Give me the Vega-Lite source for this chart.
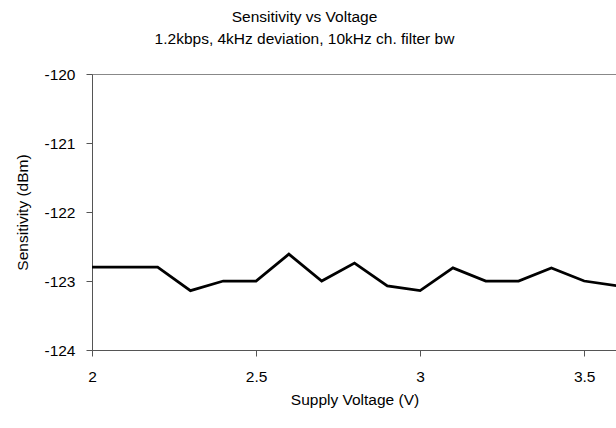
{
  "$schema": "https://vega.github.io/schema/vega-lite/v6.json",
  "autosize": "none",
  "width": 525,
  "height": 276,
  "padding": {"left": 92, "top": 74, "right": 0, "bottom": 78},
  "background": "white",
  "title": {
    "text": ["Sensitivity vs Voltage", "1.2kbps, 4kHz deviation, 10kHz ch. filter bw"],
    "font": "Liberation Sans",
    "fontSize": 15.5,
    "fontWeight": "normal",
    "lineHeight": 22,
    "color": "#000000",
    "anchor": "middle",
    "frame": "group",
    "dx": -50,
    "offset": 20
  },
  "config": {
    "view": {"stroke": "#888888", "strokeWidth": 1},
    "axis": {
      "labelFont": "Liberation Sans",
      "titleFont": "Liberation Sans",
      "labelFontSize": 15.5,
      "titleFontSize": 15.5,
      "titleFontWeight": "normal",
      "labelColor": "#000000",
      "titleColor": "#000000",
      "domainColor": "#555555",
      "tickColor": "#555555",
      "tickSize": 6,
      "grid": false
    }
  },
  "data": {
    "values": [
      {"voltage": 2.0, "sensitivity": -122.8},
      {"voltage": 2.1, "sensitivity": -122.8},
      {"voltage": 2.2, "sensitivity": -122.8},
      {"voltage": 2.3, "sensitivity": -123.14},
      {"voltage": 2.4, "sensitivity": -123.0},
      {"voltage": 2.5, "sensitivity": -123.0},
      {"voltage": 2.6, "sensitivity": -122.61},
      {"voltage": 2.7, "sensitivity": -123.0},
      {"voltage": 2.8, "sensitivity": -122.74},
      {"voltage": 2.9, "sensitivity": -123.07},
      {"voltage": 3.0, "sensitivity": -123.14},
      {"voltage": 3.1, "sensitivity": -122.81},
      {"voltage": 3.2, "sensitivity": -123.0},
      {"voltage": 3.3, "sensitivity": -123.0},
      {"voltage": 3.4, "sensitivity": -122.81},
      {"voltage": 3.5, "sensitivity": -123.0},
      {"voltage": 3.6, "sensitivity": -123.07}
    ]
  },
  "mark": {"type": "line", "color": "#000000", "strokeWidth": 2.75},
  "encoding": {
    "x": {
      "field": "voltage",
      "type": "quantitative",
      "scale": {"domain": [2, 3.6], "nice": false, "zero": false},
      "axis": {"values": [2, 2.5, 3, 3.5], "labelExpr": "'' + datum.value", "title": "Supply Voltage (V)", "labelPadding": 13, "titlePadding": 8, "labelFlush": false}
    },
    "y": {
      "field": "sensitivity",
      "type": "quantitative",
      "scale": {"domain": [-124, -120], "nice": false, "zero": false},
      "axis": {"values": [-124, -123, -122, -121, -120], "labelExpr": "'' + datum.value", "title": "Sensitivity (dBm)", "labelPadding": 11, "titlePadding": 13, "labelFlush": false}
    }
  }
}
